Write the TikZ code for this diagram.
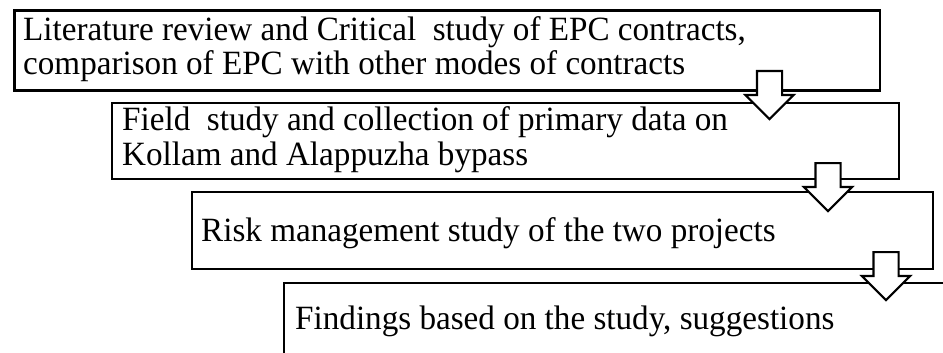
\documentclass[tikz,border=0pt]{standalone}
\usepackage{fontspec}
\setmainfont[FakeStretch=0.975]{Liberation Serif}
\usetikzlibrary{shapes.arrows}

\begin{document}
\begin{tikzpicture}[x=1pt,y=-1pt,
    stepbox/.style={draw, line width=2.2pt, anchor=north west, inner sep=0pt},
    steptext/.style={anchor=base west, inner sep=0pt, font=\fontsize{34}{34}\selectfont},
    downarrow/.style={single arrow, draw, fill=white, line width=2.2pt, rotate=-90, anchor=tail,
      inner xsep=0pt, inner ysep=11.5pt, minimum width=46pt, minimum height=48pt,
      single arrow head extend=11.5pt}]
    \useasboundingbox (0,0) rectangle (943,353);
    \clip (0,0) rectangle (943,353);

    % the four stages
    \node[stepbox, minimum width=865.7pt, minimum height=80pt] (lit) at (13.3,9.5) {};
    \node[stepbox, minimum width=787pt, minimum height=76pt] (field) at (110.7,102) {};
    \node[stepbox, minimum width=741pt, minimum height=77pt] (risk) at (190.7,191) {};
    \node[stepbox, minimum width=700pt, minimum height=100pt] (find) at (283,282) {};

    \node[steptext] (lit1) at (23,41) {Literature review and Critical\ \ study of EPC contracts,};
    \node[steptext] (lit2) at (23,75) {comparison of EPC with other modes of contracts};
    \node[steptext] (field1) at (122,130) {Field\ \ study and collection of primary data on};
    \node[steptext] (field2) at (122,165) {Kollam and Alappuzha bypass};
    \node[steptext] (risk1) at (201,241) {Risk management study of the two projects};
    \node[steptext] (find1) at (295,329) {Findings based on the study, suggestions};

    % hollow arrows between the stages
    \node[downarrow] (a1) at (769.5,70) {};
    \node[downarrow] (a2) at (828,162) {};
    \node[downarrow] (a3) at (886,251) {};
  \end{tikzpicture}
\end{document}
